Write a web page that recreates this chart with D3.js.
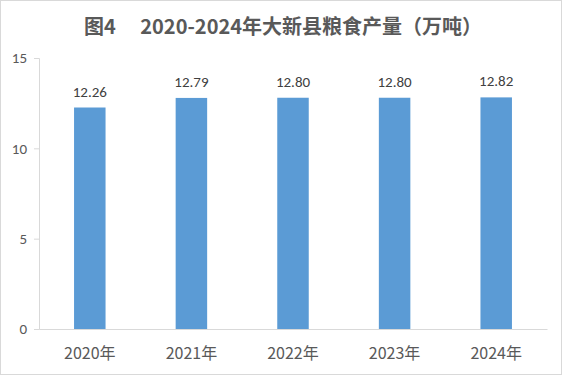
<!DOCTYPE html>
<html>
<head>
<meta charset="utf-8">
<script src="https://cdn.jsdelivr.net/npm/d3@7"></script>
<style>
  body { margin: 0; background: #fff; }
  svg { display: block; font-family: "Microsoft YaHei", "Noto Sans CJK SC", sans-serif; }
</style>
</head>
<body>
<svg width="563" height="376"></svg>
<script>
  const years = ['2020年', '2021年', '2022年', '2023年', '2024年'];
  const output = [12.26, 12.79, 12.80, 12.80, 12.82];
  const yTicks = [0, 5, 10, 15];
  const title = '图4\u3000 2020-2024年大新县粮食产量（万吨）';

  const svg = d3.select('svg');
  const width = +svg.attr('width');
  const height = +svg.attr('height');
  const margin = { top: 58, right: 16, bottom: 47, left: 39 };
  const innerWidth = width - margin.left - margin.right;
  const innerHeight = height - margin.top - margin.bottom;
  const numFont = 'Calibri, Carlito, "Liberation Sans", sans-serif';

  // outer frame
  svg.append('rect')
    .attr('x', 0.5).attr('y', 0.5)
    .attr('width', width - 2).attr('height', height - 2)
    .attr('fill', '#fff')
    .attr('stroke', '#d9d9d9');

  svg.append('text')
    .attr('x', 283).attr('y', 34)
    .attr('text-anchor', 'middle')
    .style('font-size', '20px')
    .style('font-weight', 'bold')
    .attr('fill', '#595959')
    .text(title);

  const g = svg.append('g')
    .attr('transform', `translate(${margin.left},${margin.top})`);

  const xScale = d3.scaleBand()
    .domain(years)
    .range([0, innerWidth])
    .paddingInner(0.69)
    .paddingOuter(0.345);

  const yScale = d3.scaleLinear()
    .domain([0, 15])
    .range([innerHeight, 0]);

  const yAxis = d3.axisLeft(yScale)
    .tickValues(yTicks)
    .tickSize(5)
    .tickPadding(7);

  const yAxisG = g.append('g').call(yAxis);
  yAxisG.select('.domain').attr('stroke', '#d9d9d9');
  yAxisG.selectAll('.tick line').attr('stroke', '#d9d9d9');
  yAxisG.selectAll('.tick text')
    .attr('fill', '#595959')
    .style('font-size', '15px')
    .style('font-family', numFont);

  g.selectAll('rect.bar').data(output)
    .enter().append('rect')
      .attr('class', 'bar')
      .attr('x', (d, i) => xScale(years[i]))
      .attr('y', d => yScale(d))
      .attr('width', xScale.bandwidth())
      .attr('height', d => innerHeight - yScale(d))
      .attr('fill', '#5b9bd5');

  g.selectAll('text.val').data(output)
    .enter().append('text')
      .attr('class', 'val')
      .attr('x', (d, i) => xScale(years[i]) + xScale.bandwidth() / 2)
      .attr('y', d => yScale(d) - 11)
      .attr('text-anchor', 'middle')
      .attr('fill', '#404040')
      .style('font-size', '15px')
      .style('font-family', numFont)
      .text(d => d.toFixed(2));

  const xAxis = d3.axisBottom(xScale)
    .tickSize(0)
    .tickPadding(19);

  const xAxisG = g.append('g')
    .attr('transform', `translate(0,${innerHeight})`)
    .call(xAxis);
  xAxisG.select('.domain').attr('stroke', '#d9d9d9');
  xAxisG.selectAll('.tick text')
    .attr('fill', '#595959')
    .style('font-size', '16px')
    .style('font-family', '"Noto Sans CJK SC", sans-serif');
</script>
</body>
</html>
